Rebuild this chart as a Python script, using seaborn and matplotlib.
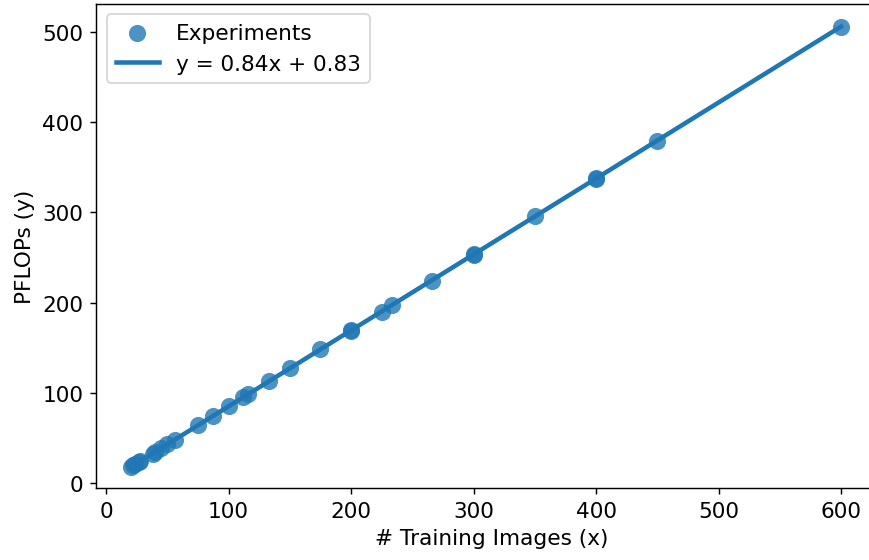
import numpy as np
import pandas as pd
import matplotlib.pyplot as plt
import seaborn as sns

# numero de imagenes de entrenamiento y PFLOPs medidos
train_images = [20, 22, 24, 27, 28, 38, 40, 45, 50, 56, 75, 87, 100, 112, 116,
                133, 150, 175, 200, 200, 225, 233, 266, 300, 300, 350, 400, 400,
                450, 600]
pflops = [17.8, 19.5, 21.0, 23.5, 24.3, 32.6, 34.5, 38.6, 43.0, 48.0, 64.0, 74.0,
          85.0, 95.0, 98.5, 113.0, 127.0, 148.5, 169.0, 170.0, 190.0, 197.0,
          224.5, 253.0, 254.0, 295.5, 337.0, 338.5, 379.5, 506.0]

df = pd.DataFrame({"x": train_images, "y": pflops})
slope, intercept = np.polyfit(df["x"], df["y"], 1)

plt.rcParams["font.size"] = 12
fig, ax = plt.subplots(figsize=(6.685, 4.315), dpi=130)
sns.scatterplot(data=df, x="x", y="y", ax=ax, color="#1f77b4", s=90,
                alpha=0.8, linewidth=0, label="Experiments")
sns.regplot(data=df, x="x", y="y", ci=None, ax=ax, color="#1f77b4",
            scatter=False, line_kws={"linewidth": 2.5},
            label=f"y = {slope:.2f}x + {intercept:.2f}")
# el recorte de la imagen deja fuera el borde derecho
ax.spines["right"].set_visible(False)
ax.set_xlim(-8.2, 637)
ax.set_ylim(-5.5, 531.5)
ax.set_xlabel("# Training Images (x)")
ax.set_ylabel("PFLOPs (y)")
ax.legend(loc="upper left")
fig.subplots_adjust(left=0.1105, right=1.02, bottom=0.1283, top=0.992)
fig.savefig("out.png")
